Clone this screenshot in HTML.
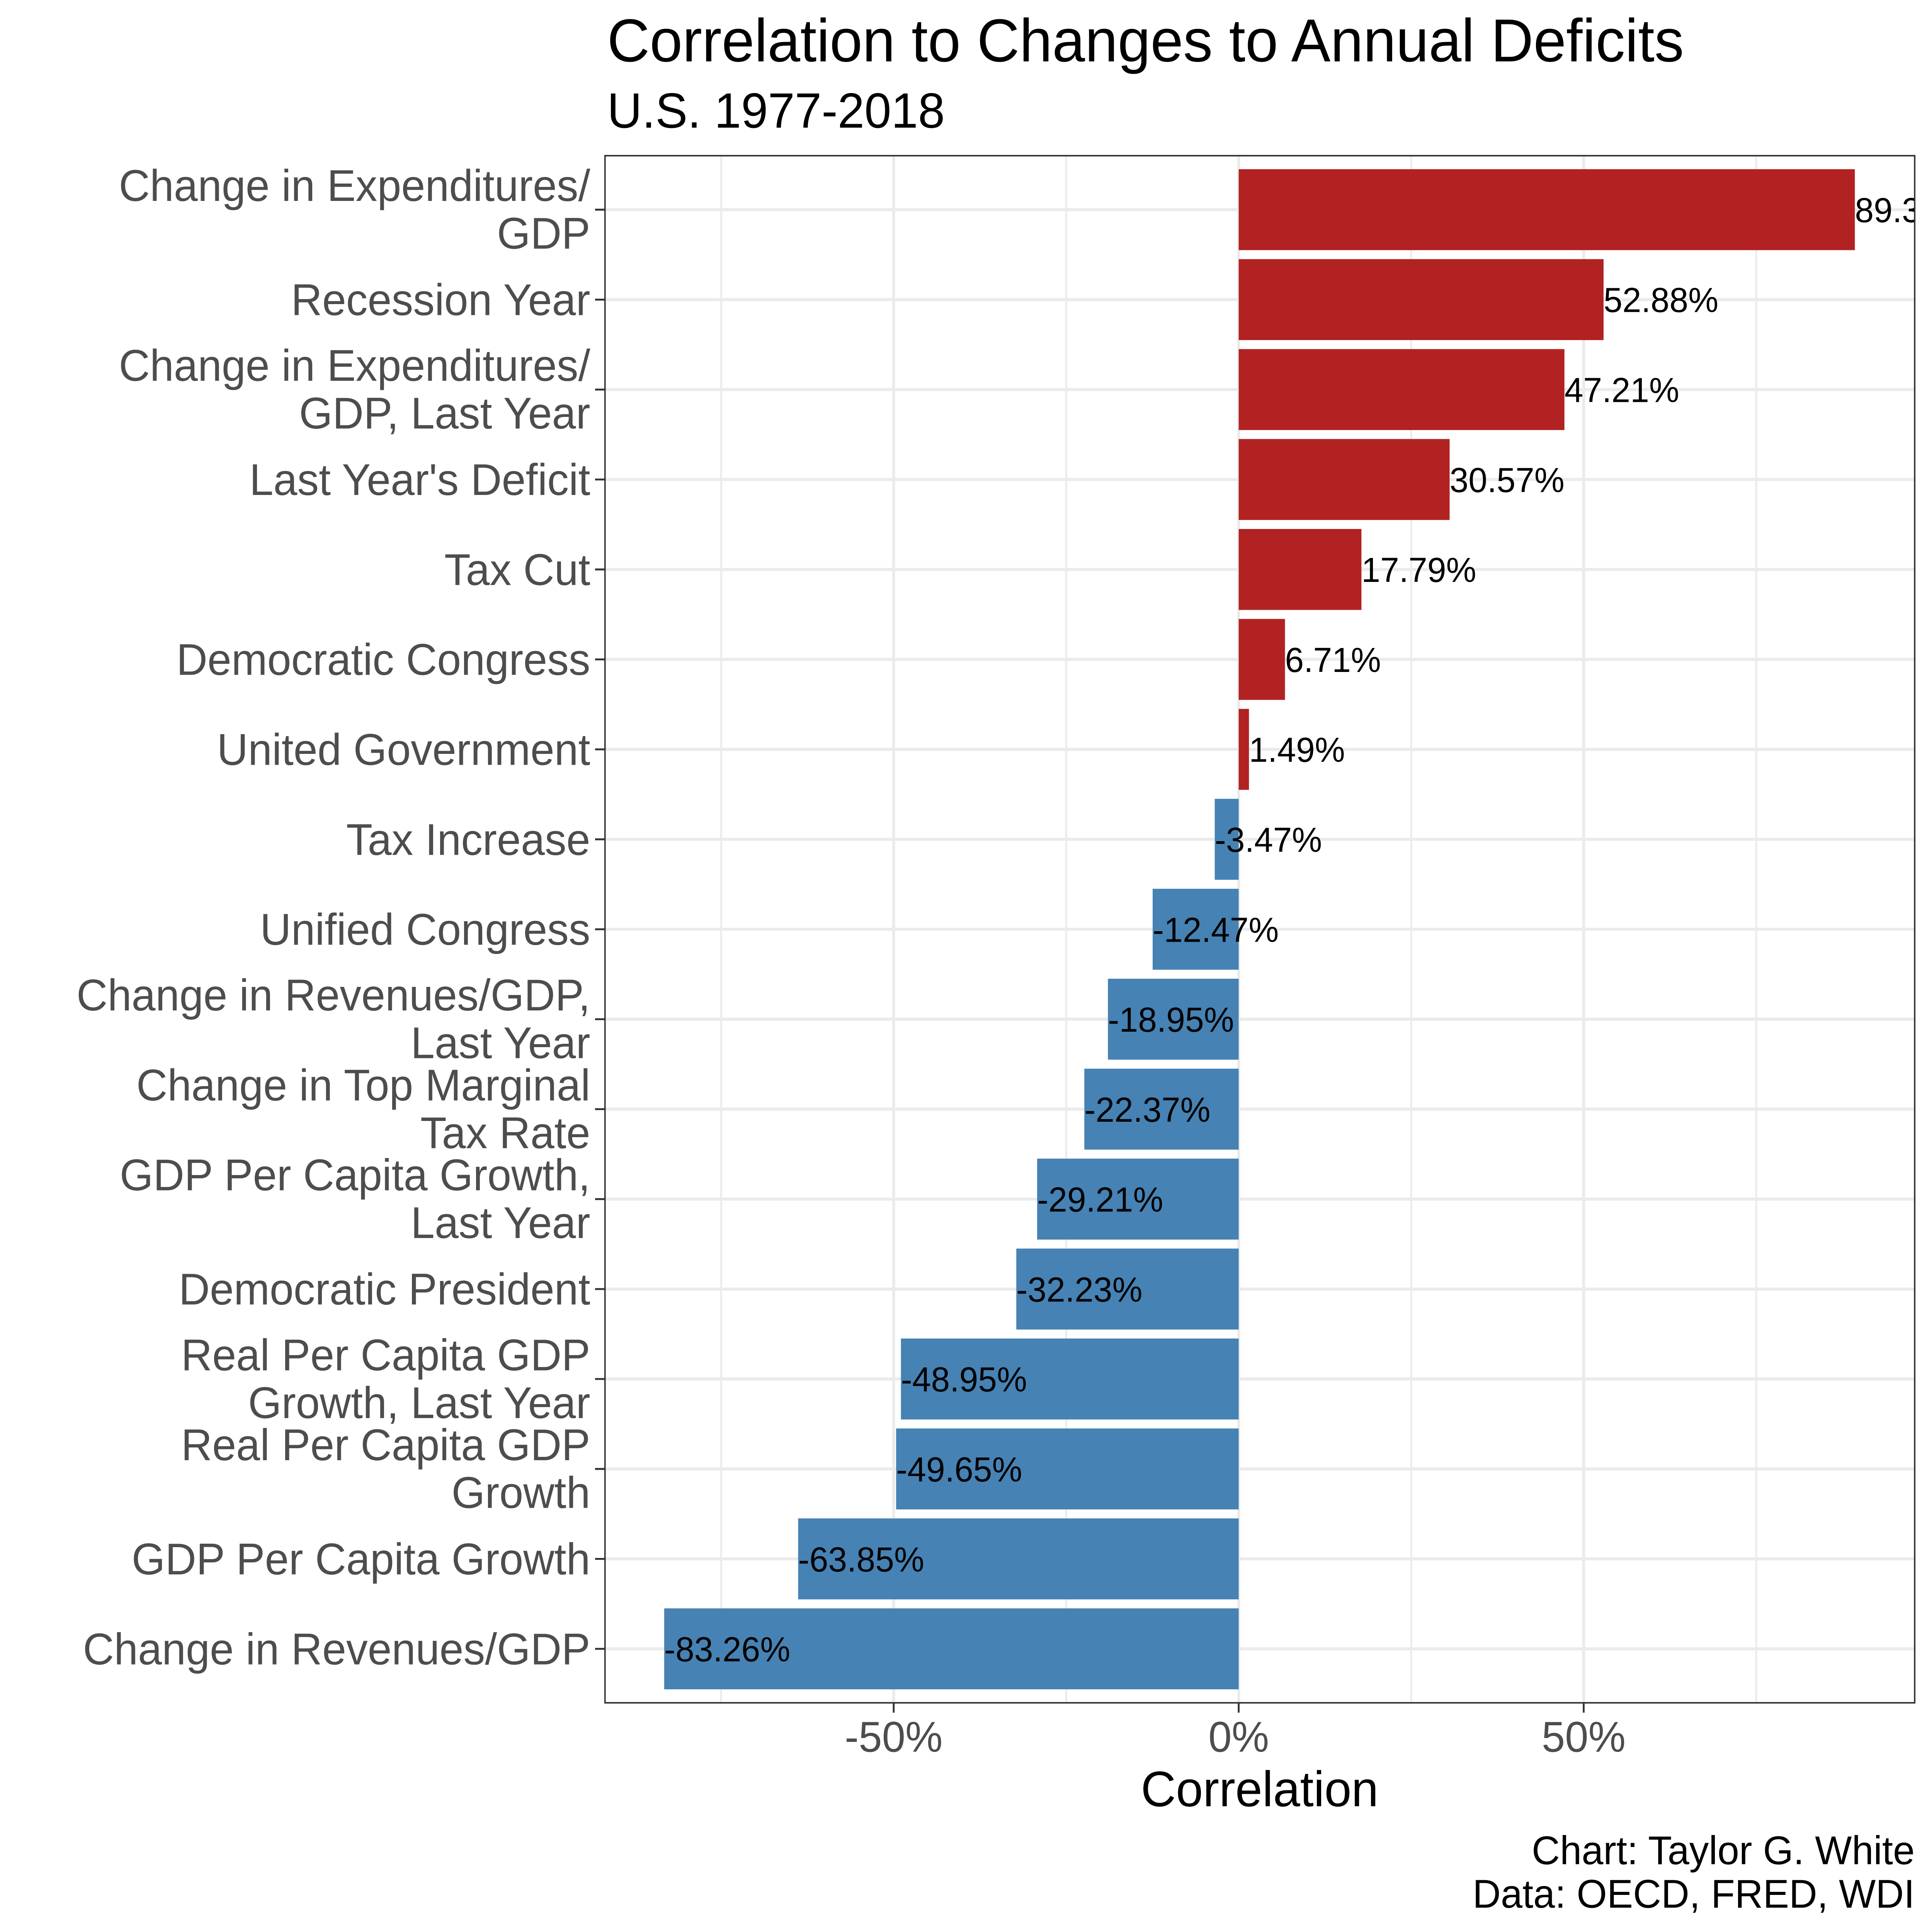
<!DOCTYPE html>
<html><head><meta charset="utf-8">
<style>
html,body{margin:0;padding:0;background:#fff;width:100%;height:100%;overflow:hidden;}
svg{display:block;position:fixed;left:0;top:0;width:100vw;height:100vh;font-family:"Liberation Sans",Arial,sans-serif;}
</style></head>
<body>
<svg id="chart" viewBox="0 0 5250 5100" preserveAspectRatio="none" xmlns="http://www.w3.org/2000/svg">
<rect x="0" y="0" width="5250" height="5100" fill="#fff"/>
<text x="1650" y="162" font-size="160" fill="#000">Correlation to Changes to Annual Deficits</text>
<text x="1650" y="337" font-size="131" fill="#000">U.S. 1977-2018</text>
<defs><clipPath id="panelClip"><rect x="1644" y="411" width="3559" height="4084"/></clipPath></defs>
<g id="grid"></g>
<g id="bars" clip-path="url(#panelClip)"></g>
<rect x="1644" y="411" width="3559" height="4084" fill="none" stroke="#333" stroke-width="4"/>
<g id="yaxis"></g>
<g id="xaxis"></g>
<text x="3423" y="4768" font-size="132" text-anchor="middle" fill="#000">Correlation</text>
<text x="5203" y="4921" font-size="106" text-anchor="end" fill="#000">Chart: Taylor G. White</text>
<text x="5203" y="5036" font-size="106" text-anchor="end" fill="#000">Data: OECD, FRED, WDI</text>
</svg>
<script>
const categories = [
  ["Change in Expenditures/","GDP"],
  ["Recession Year"],
  ["Change in Expenditures/","GDP, Last Year"],
  ["Last Year's Deficit"],
  ["Tax Cut"],
  ["Democratic Congress"],
  ["United Government"],
  ["Tax Increase"],
  ["Unified Congress"],
  ["Change in Revenues/GDP,","Last Year"],
  ["Change in Top Marginal","Tax Rate"],
  ["GDP Per Capita Growth,","Last Year"],
  ["Democratic President"],
  ["Real Per Capita GDP","Growth, Last Year"],
  ["Real Per Capita GDP","Growth"],
  ["GDP Per Capita Growth"],
  ["Change in Revenues/GDP"]
];
const values = [89.30, 52.88, 47.21, 30.57, 17.79, 6.71, 1.49, -3.47, -12.47, -18.95, -22.37, -29.21, -32.23, -48.95, -49.65, -63.85, -83.26];
const majorTicks = [-50, 0, 50];
const minorTicks = [-75, -25, 25, 75];
const tickLabels = ["-50%", "0%", "50%"];

const NS = "http://www.w3.org/2000/svg";
const PL = 1644, PR = 5203, PT = 411, PB = 4495;
const X0 = 3366, PXPER = 18.75;
const unit = (PB - PT) / (categories.length + 0.2);
function xs(v){ return X0 + v * PXPER; }
function yc(i){ return PT + (0.6 + i) * unit; }
function mk(tag, attrs, parent){
  const e = document.createElementNS(NS, tag);
  for (const k in attrs) e.setAttribute(k, attrs[k]);
  parent.appendChild(e);
  return e;
}
const grid = document.getElementById("grid");
const bars = document.getElementById("bars");
const yaxis = document.getElementById("yaxis");
const xaxis = document.getElementById("xaxis");

minorTicks.forEach(t => {
  const l = mk("line", {x1: xs(t), x2: xs(t), y1: PT, y2: PB, stroke: "#ebebeb", "stroke-width": 5}, grid);
  
  
});
majorTicks.forEach(t => {
  const l = mk("line", {x1: xs(t), x2: xs(t), y1: PT, y2: PB, stroke: "#ebebeb", "stroke-width": 8}, grid);
  
  
});
categories.forEach((c, i) => {
  const l = mk("line", {x1: PL, x2: PR, y1: yc(i), y2: yc(i), stroke: "#ebebeb", "stroke-width": 8}, grid);
  
  
});

values.forEach((v, i) => {
  const h = unit * 0.9;
  const x = Math.min(xs(0), xs(v)), w = Math.abs(xs(v) - xs(0));
  const r = mk("rect", {x: x, y: yc(i) - h/2, width: w, height: h, fill: v >= 0 ? "#B22222" : "#4682B4"}, bars);
  
  
  const t = mk("text", {x: xs(v), y: yc(i) + 33, "font-size": 92, fill: "#000"}, bars);
  t.textContent = v.toFixed(2) + "%";
  
  
});

categories.forEach((c, i) => {
  const y = yc(i);
  const tk = mk("line", {x1: PL - 27, x2: PL, y1: y, y2: y, stroke: "#333", "stroke-width": 5}, yaxis);
  
  
  const t = mk("text", {"font-size": 117, fill: "#4d4d4d", "text-anchor": "end"}, yaxis);
  
  
  if (c.length === 1) {
    t.setAttribute("x", PL - 40); t.setAttribute("y", y + 41);
    t.textContent = c[0];
  } else {
    c.forEach((line, k) => {
      const s = mk("tspan", {x: PL - 40, y: y - 23 + k * 126}, t);
      s.textContent = line;
    });
  }
});

majorTicks.forEach((tv, k) => {
  const tk = mk("line", {x1: xs(tv), x2: xs(tv), y1: PB, y2: PB + 26, stroke: "#333", "stroke-width": 5}, xaxis);
  
  
  const t = mk("text", {x: xs(tv), y: 4624, "font-size": 114, fill: "#4d4d4d", "text-anchor": "middle"}, xaxis);
  t.textContent = tickLabels[k];
  
  
});
</script>
</body></html>
